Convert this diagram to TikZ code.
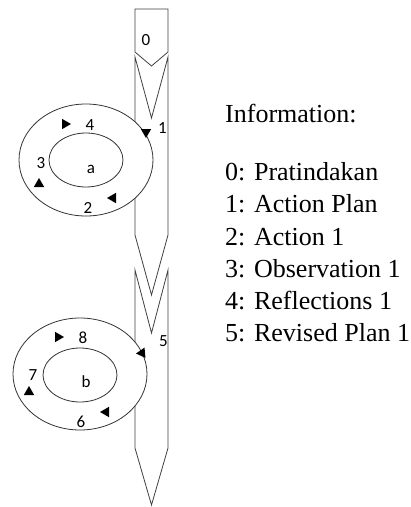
\documentclass[tikz,border=0pt]{standalone}
\usepackage{fontspec}
\setmainfont{Liberation Serif}
\newfontfamily\lblfont{Carlito}
\usetikzlibrary{shapes.geometric}
\begin{document}
\begin{tikzpicture}[x=1pt,y=-1pt,
  shp/.style={draw=black!75, line width=0.8pt, fill=white, line join=miter},
  ring/.style={draw=black!80, line width=0.8pt, fill=white, ellipse, inner sep=0pt},
  num/.style={font=\lblfont\fontsize{17}{17}\selectfont, inner sep=0pt},
  info/.style={font=\fontsize{26}{30}\selectfont, anchor=base west, inner sep=0pt},
  tri/.style={regular polygon, regular polygon sides=3, fill=black, draw=none, inner sep=0pt, minimum size=12pt}]
\useasboundingbox (0,0) rectangle (411,507);
% column of chevrons
\draw[shp] (135,9) -- (168,9) -- (168,52) -- (151.5,66) -- (135,52) -- cycle;
\draw[shp] (135,57) -- (151.5,118) -- (168,57) -- (168,235) -- (151.5,295) -- (135,235) -- cycle;
\draw[shp] (135,270) -- (151.5,333) -- (168,270) -- (168,448) -- (151.5,505) -- (135,448) -- cycle;
% cycle a
\node[ring, minimum width=134pt, minimum height=112pt] (outa) at (86,160) {};
\node[ring, minimum width=74pt, minimum height=54pt] (ina) at (86,160) {};
% cycle b
\node[ring, minimum width=134pt, minimum height=112pt] (outb) at (80,374) {};
\node[ring, minimum width=74pt, minimum height=54pt] (inb) at (80,375) {};
% markers a
\node[tri, rotate=-90] (ta4) at (65,124) {};
\node[tri] (ta3) at (39,184) {};
\node[tri, rotate=90] (ta2) at (113,198) {};
\node[tri, rotate=180] (ta1) at (146,132) {};
% markers b
\node[tri, rotate=-90] (tb8) at (58,337) {};
\node[tri] (tb7) at (29,392) {};
\node[tri, rotate=90] (tb6) at (106,412) {};
\node[tri, rotate=-145] (tb5) at (142,353) {};
% labels
\node[num] (l0) at (146,40) {0};
\node[num] (l1) at (162.5,128) {1};
\node[num] (l5) at (163.5,341) {5};
\node[num] (l4) at (90,125) {4};
\node[num] (l3) at (41,163) {3};
\node[num] (la) at (91,169) {a};
\node[num] (l2) at (88,208) {2};
\node[num] (l8) at (83,338) {8};
\node[num] (l7) at (33,375) {7};
\node[num] (lb) at (86,382) {b};
\node[num] (l6) at (81,422) {6};
% information
\node[info] (ih) at (225,122) {Information:};
\node[info] (i0) at (225,180) {0: Pratindakan};
\node[info] (i1) at (225,212.5) {1: Action Plan};
\node[info] (i2) at (225,245) {2: Action 1};
\node[info] (i3) at (225,277) {3: Observation 1};
\node[info] (i4) at (225,309.5) {4: Reflections 1};
\node[info] (i5) at (225,341.5) {5: Revised Plan 1};
\end{tikzpicture}
\end{document}
